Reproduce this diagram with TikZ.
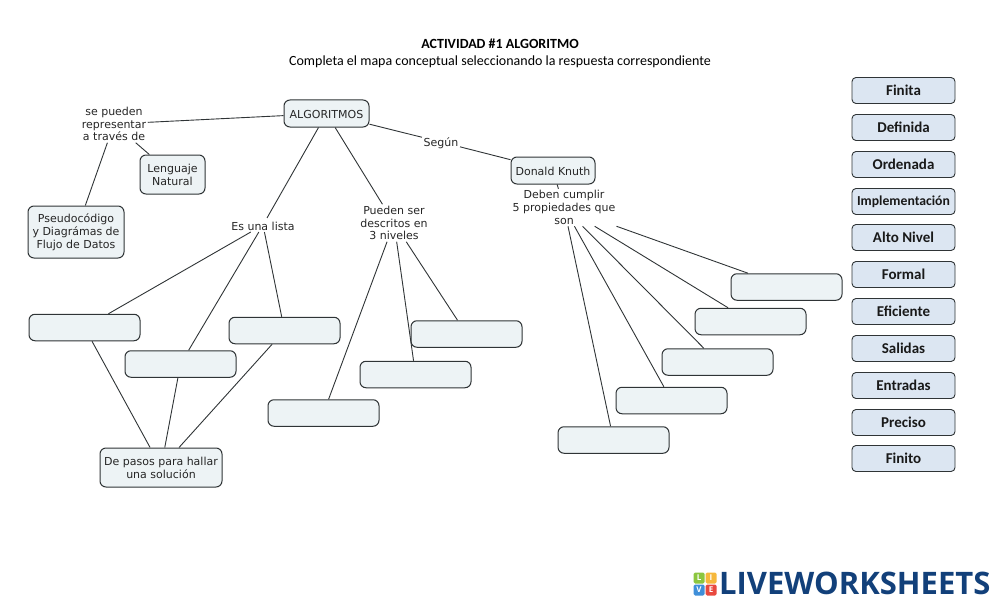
\documentclass[tikz,border=0pt]{standalone}
\usepackage{fontspec}
\setmainfont{DejaVu Sans}
\newfontfamily\titlefont{Carlito}
\newfontfamily\logofont{Open Sans}
\definecolor{conceptFill}{HTML}{EDF3F5}
\definecolor{answerFill}{HTML}{DCE6F2}
\definecolor{edgeGray}{HTML}{2F3436}
\definecolor{logoNavy}{HTML}{12407A}
\definecolor{logoGreen}{HTML}{8CC63F}
\definecolor{logoYellow}{HTML}{F6B83C}
\definecolor{logoBlue}{HTML}{3F8FD9}
\definecolor{logoRed}{HTML}{E8493F}
\tikzset{
  concept/.style={draw=edgeGray, fill=conceptFill, rounded corners=6pt, line width=1pt, align=center, inner sep=0pt, font=\fontsize{11}{12.8}\selectfont, text=black!85, execute at begin node={\rule{0pt}{10.5pt}}},
  tallconcept/.style={concept, execute at begin node={\rule{0pt}{13pt}}},
  blankbox/.style={draw=edgeGray, fill=conceptFill, rounded corners=6pt, line width=1pt, inner sep=0pt, minimum width=111pt, minimum height=26.5pt},
  answer/.style={draw=edgeGray, fill=answerFill, rounded corners=4pt, line width=0.9pt, minimum width=103pt, minimum height=26pt, inner sep=0pt, font=\titlefont\bfseries\fontsize{15}{18}\selectfont, text=black!90},
  linklabel/.style={align=center, inner sep=1.5pt, font=\fontsize{11}{12.8}\selectfont, text=black!85, execute at begin node={\rule{0pt}{10.5pt}}},
  link/.style={line width=0.9pt, edgeGray},
  logotile/.style={fill=#1, rounded corners=1.5pt, minimum size=11pt, inner sep=0pt, text=white, font=\logofont\bfseries\fontsize{8}{8}\selectfont}
}
\begin{document}
\begin{tikzpicture}[x=1pt, y=-1pt]
    \useasboundingbox (0,0) rectangle (1000,607);

    % title
    \node[inner sep=0pt, font=\titlefont\bfseries\fontsize{14}{16}\selectfont] (title) at (500,44) {ACTIVIDAD \#1 ALGORITMO};
    \node[inner sep=0pt, font=\titlefont\fontsize{14}{16}\selectfont] (subtitle) at (500,61.5) {Completa el mapa conceptual seleccionando la respuesta correspondiente};

    % filled concepts
    \node[concept, minimum width=85pt, minimum height=27pt] (algoritmos) at (326.5,113.5) {ALGORITMOS};
    \node[tallconcept, minimum width=65pt, minimum height=39pt] (lenguaje) at (172.5,174.5) {Lenguaje\\Natural};
    \node[tallconcept, minimum width=96pt, minimum height=52pt] (pseudo) at (76,232) {Pseudocódigo\\y Diagrámas de\\Flujo de Datos};
    \node[concept, minimum width=84pt, minimum height=27pt] (knuth) at (553,170.5) {Donald Knuth};
    \node[tallconcept, minimum width=122pt, minimum height=39pt] (pasos) at (161,467.5) {De pasos para hallar\\una solución};

    % link phrases
    \node[linklabel] (representar) at (114,124) {se pueden\\representar\\a través de};
    \node[linklabel] (lista) at (263,225) {Es una lista};
    \node[linklabel] (niveles) at (394,223) {Pueden ser\\descritos en\\3 niveles};
    \node[linklabel] (segun) at (441,142) {Según};
    \node[linklabel] (cumplir) at (564,207.5) {Deben cumplir\\5 propiedades que\\son};

    % empty boxes to complete
    \foreach \name/\px/\py in {listaA/84.5/327.5, listaB/180.5/364, listaC/284.5/330.5,
                               nivelA/323.5/413, nivelB/415.5/374.5, nivelC/466.5/334,
                               propA/613.5/440, propB/671.5/400.5, propC/717.5/362, propD/750.5/321.5, propE/786.5/287} {
        \node[blankbox] (\name) at (\px,\py) {};
    }

    % connectors
    \draw[link] (algoritmos) -- (representar);
    \draw[link] (representar) -- (lenguaje);
    \draw[link] (representar) -- (pseudo);
    \draw[link] (algoritmos) -- (lista);
    \draw[link] (algoritmos) -- (niveles);
    \draw[link] (algoritmos) -- (segun);
    \draw[link] (segun) -- (knuth);
    \draw[link] (knuth) -- (cumplir);
    \foreach \name in {listaA,listaB,listaC} {
        \draw[link] (lista) -- (\name);
        \draw[link] (\name) -- (pasos);
    }
    \foreach \name in {nivelA,nivelB,nivelC} {
        \draw[link] (niveles) -- (\name);
    }
    \foreach \name in {propA,propB,propC,propD,propE} {
        \draw[link] (cumplir) -- (\name);
    }

    % answer column
    \foreach \name/\py/\word in {finita/90.5/Finita, definida/127.5/Definida, ordenada/164.5/Ordenada,
                                 altonivel/237.5/Alto Nivel, formal/274.5/Formal, eficiente/311.5/Eficiente,
                                 salidas/348.5/Salidas, entradas/385.5/Entradas, preciso/422.5/Preciso, finito/458.5/Finito} {
        \node[answer] (\name) at (903.5,\py) {\word};
    }
    \node[answer, font=\titlefont\bfseries\fontsize{13.7}{16}\selectfont] (implementacion) at (903.5,201.5) {Implementación};

    % logo
    \node[logotile=logoGreen] (tileL) at (699,578) {L};
    \node[logotile=logoYellow] (tileI) at (711,578) {I};
    \node[logotile=logoBlue] (tileV) at (699,590) {V};
    \node[logotile=logoRed] (tileE) at (711,590) {E};
    \node[anchor=west, inner sep=0pt, text=logoNavy, font=\logofont\bfseries\fontsize{31}{31}\selectfont] (logotext) at (719,583.5) {LIVEWORKSHEETS};
\end{tikzpicture}
\end{document}
